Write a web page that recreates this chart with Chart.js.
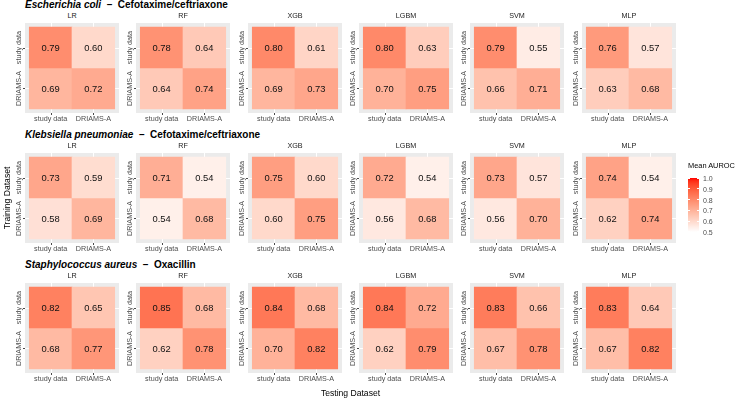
<!DOCTYPE html>
<html lang="en">
<head>
<meta charset="utf-8">
<title>Mean AUROC heatmaps</title>
<script src="https://cdn.jsdelivr.net/npm/chart.js@4.4.0/dist/chart.umd.min.js"></script>
<style>
  body { margin: 0; background: #fff; }
  #wrap { position: relative; width: 735px; height: 398px; overflow: hidden;
          font-family: "Liberation Sans", Arial, sans-serif; }
  #wrap canvas { position: absolute; }
  .txt { position: absolute; white-space: nowrap; line-height: 1; transform: translate(-50%, -50%); }
  .title { position: absolute; white-space: nowrap; line-height: 1; font-weight: bold; font-size: 10px;
           color: #000; transform: translateY(-50%); }
  .strip { font-size: 7.2px; color: #1a1a1a; }
  .axis { font-size: 8.6px; color: #000; }
  .leg { position: absolute; white-space: nowrap; line-height: 1; font-size: 7px; color: #4d4d4d; transform: translateY(-50%); }
  .legtick { position: absolute; width: 2px; height: 1px; background: #fff; }
</style>
</head>
<body>
<div id="wrap"></div>

<script>
    // Data
    var models = ["LR", "RF", "XGB", "LGBM", "SVM", "MLP"];
    var datasetNames = ["study data", "DRIAMS-A"];
    var species = ["Escherichia coli", "Klebsiella pneumoniae", "Staphylococcus aureus"];
    var drugs = ["Cefotaxime/ceftriaxone", "Cefotaxime/ceftriaxone", "Oxacillin"];
    // per model: [train study/test study, train study/test DRIAMS-A, train DRIAMS-A/test study, train DRIAMS-A/test DRIAMS-A]
    var ecoliAuroc = [[0.79, 0.60, 0.69, 0.72], [0.78, 0.64, 0.64, 0.74], [0.80, 0.61, 0.69, 0.73],
                      [0.80, 0.63, 0.70, 0.75], [0.79, 0.55, 0.66, 0.71], [0.76, 0.57, 0.63, 0.68]];
    var kpneuAuroc = [[0.73, 0.59, 0.58, 0.69], [0.71, 0.54, 0.54, 0.68], [0.75, 0.60, 0.60, 0.75],
                      [0.72, 0.54, 0.56, 0.68], [0.73, 0.57, 0.56, 0.70], [0.74, 0.54, 0.62, 0.74]];
    var saureusAuroc = [[0.82, 0.65, 0.68, 0.77], [0.85, 0.68, 0.62, 0.78], [0.84, 0.68, 0.70, 0.82],
                        [0.84, 0.72, 0.62, 0.79], [0.83, 0.66, 0.67, 0.78], [0.83, 0.64, 0.67, 0.82]];
    var allAuroc = [ecoliAuroc, kpneuAuroc, saureusAuroc];
    var legendTicks = [1.0, 0.9, 0.8, 0.7, 0.6, 0.5];
    var SCALE_MIN = 0.5, SCALE_MAX = 1.0;

    // Layout
    var PANEL_X0 = 24.8, PANEL_DX = 111.4, PANEL_W = 94;
    var ROW_Y0 = 23, ROW_DY = 130, PANEL_H = 90;
    var GUTTER_L = 20, GUTTER_B = 14;
    var FONT = "'Liberation Sans', Arial, sans-serif";

    var wrap = document.getElementById("wrap");

    // white -> red gradient interpolated in Lab, like ggplot's scale_fill_gradient
    var RED_LAB = [53.2408, 80.0925, 67.2032];
    function labToRgb(L, a, b) {
        var fy = (L + 16) / 116, fx = fy + a / 500, fz = fy - b / 200;
        function finv(t) { return t * t * t > 0.008856 ? t * t * t : (t - 16 / 116) / 7.787; }
        var X = 0.95047 * finv(fx), Y = finv(fy), Z = 1.08883 * finv(fz);
        var r = 3.2406 * X - 1.5372 * Y - 0.4986 * Z;
        var g = -0.9689 * X + 1.8758 * Y + 0.0415 * Z;
        var bl = 0.0557 * X - 0.2040 * Y + 1.0570 * Z;
        function gam(c) {
            c = Math.max(0, Math.min(1, c));
            c = c <= 0.0031308 ? 12.92 * c : 1.055 * Math.pow(c, 1 / 2.4) - 0.055;
            return Math.round(c * 255);
        }
        return "rgb(" + gam(r) + "," + gam(g) + "," + gam(bl) + ")";
    }
    function fillFor(v) {
        var t = Math.max(0, Math.min(1, (v - SCALE_MIN) / (SCALE_MAX - SCALE_MIN)));
        return labToRgb(100 + (RED_LAB[0] - 100) * t, RED_LAB[1] * t, RED_LAB[2] * t);
    }

    function addText(html, cls, x, y, extra) {
        var d = document.createElement("div");
        d.className = cls;
        d.innerHTML = html;
        d.style.left = x + "px";
        d.style.top = y + "px";
        if (extra) d.style.cssText += extra;
        wrap.appendChild(d);
        return d;
    }

    // grey panel + white major grid (ggplot theme_gray look)
    var panelBg = {
        id: "panelBg",
        beforeDatasetsDraw: function(chart) {
            var a = chart.chartArea, ctx = chart.ctx;
            var xs = chart.scales.x, ys = chart.scales.y;
            ctx.save();
            ctx.fillStyle = "#ebebeb";
            ctx.fillRect(a.left, a.top, a.right - a.left, a.bottom - a.top);
            ctx.strokeStyle = "#ffffff";
            ctx.lineWidth = 1;
            ctx.beginPath();
            [1, 2].forEach(function(v) {
                var px = Math.round(xs.getPixelForValue(v)) + 0.5;
                var py = Math.round(ys.getPixelForValue(v)) + 0.5;
                ctx.moveTo(px, a.top); ctx.lineTo(px, a.bottom);
                ctx.moveTo(a.left, py); ctx.lineTo(a.right, py);
            });
            ctx.stroke();
            ctx.restore();
        }
    };

    // cell values, tick marks and tick labels
    var cellText = {
        id: "cellText",
        afterDatasetsDraw: function(chart) {
            var ctx = chart.ctx, a = chart.chartArea;
            var xs = chart.scales.x, ys = chart.scales.y;
            ctx.save();
            ctx.font = "9.4px " + FONT;
            ctx.fillStyle = "#111";
            ctx.textAlign = "center";
            ctx.textBaseline = "middle";
            chart.data.datasets.forEach(function(ds, di) {
                chart.getDatasetMeta(di).data.forEach(function(bar, j) {
                    var p = bar.getCenterPoint();
                    ctx.fillText(ds.auroc[j].toFixed(2), p.x, p.y + 0.5);
                });
            });

            ctx.strokeStyle = "#333";
            ctx.lineWidth = 0.9;
            ctx.beginPath();
            [1, 2].forEach(function(v) {
                var px = Math.round(xs.getPixelForValue(v)) + 0.5;
                var py = Math.round(ys.getPixelForValue(v)) + 0.5;
                ctx.moveTo(px, a.bottom); ctx.lineTo(px, a.bottom + 2);
                ctx.moveTo(a.left - 2, py); ctx.lineTo(a.left, py);
            });
            ctx.stroke();

            ctx.font = "7.2px " + FONT;
            ctx.fillStyle = "#4d4d4d";
            ctx.textBaseline = "alphabetic";
            datasetNames.forEach(function(name, k) {
                ctx.fillText(name, xs.getPixelForValue(k + 1), a.bottom + 7.5);
                ctx.save();
                ctx.translate(a.left - 4, ys.getPixelForValue(2 - k));
                ctx.rotate(-Math.PI / 2);
                ctx.fillText(name, 0, 0);
                ctx.restore();
            });
            ctx.restore();
        }
    };

    function makePanel(r, m) {
        var vals = allAuroc[r][m];
        var x0 = Math.round(PANEL_X0 + m * PANEL_DX);
        var y0 = ROW_Y0 + r * ROW_DY;
        var cv = document.createElement("canvas");
        cv.width = GUTTER_L + PANEL_W;
        cv.height = PANEL_H + GUTTER_B;
        cv.style.left = (x0 - GUTTER_L) + "px";
        cv.style.top = y0 + "px";
        wrap.appendChild(cv);

        var datasets = datasetNames.map(function(train, k) {
            var yPos = 2 - k;
            return {
                label: train,
                data: datasetNames.map(function(test, j) { return { x: j + 1, y: [yPos - 0.5, yPos + 0.5] }; }),
                auroc: [vals[k * 2], vals[k * 2 + 1]],
                backgroundColor: [fillFor(vals[k * 2]), fillFor(vals[k * 2 + 1])],
                borderWidth: 0,
                grouped: false,
                barPercentage: 1,
                categoryPercentage: 1
            };
        });

        var ticks12 = function(scale) { scale.ticks = [{ value: 1 }, { value: 2 }]; };
        new Chart(cv.getContext("2d"), {
            type: "bar",
            data: { datasets: datasets },
            options: {
                responsive: false,
                animation: false,
                events: [],
                layout: { padding: { left: GUTTER_L, right: 0, top: 0, bottom: GUTTER_B } },
                plugins: { legend: { display: false }, tooltip: { enabled: false } },
                scales: {
                    x: { type: "linear", display: false, offset: false, min: 0.4, max: 2.6, afterBuildTicks: ticks12 },
                    y: { type: "linear", display: false, min: 0.4, max: 2.6, afterBuildTicks: ticks12 }
                }
            },
            plugins: [panelBg, cellText]
        });

        addText(models[m], "txt strip", x0 + PANEL_W / 2, y0 - 7.5);
    }

    for (var r = 0; r < species.length; r++) {
        addText("<i>" + species[r] + "</i>&nbsp; &ndash;&nbsp; " + drugs[r], "title", 25, 4.5 + r * ROW_DY);
        for (var m = 0; m < models.length; m++) makePanel(r, m);
    }

    // axis titles
    addText("Testing Dataset", "txt axis", 350.5, 393);
    addText("Training Dataset", "txt axis", 7, 198, "transform: translate(-50%, -50%) rotate(-90deg);");

    // colour bar legend
    addText("Mean AUROC", "leg", 688, 166, "color:#000; font-size:7.4px;");
    var stops = [];
    for (var i = 0; i <= 20; i++) {
        var v = SCALE_MAX - (SCALE_MAX - SCALE_MIN) * i / 20;
        stops.push(fillFor(v) + " " + (i * 5) + "%");
    }
    var bar = document.createElement("div");
    bar.style.cssText = "position:absolute; left:688px; top:178px; width:10.5px; height:53.5px; background:linear-gradient(to bottom," + stops.join(",") + ");";
    wrap.appendChild(bar);
    legendTicks.forEach(function(t, k) {
        var ty = 178.3 + k * 10.68;
        addText(t.toFixed(1), "leg", 703, ty);
        addText("", "legtick", 688, ty - 0.5);
        addText("", "legtick", 696.5, ty - 0.5);
    });
</script>
</body>
</html>
